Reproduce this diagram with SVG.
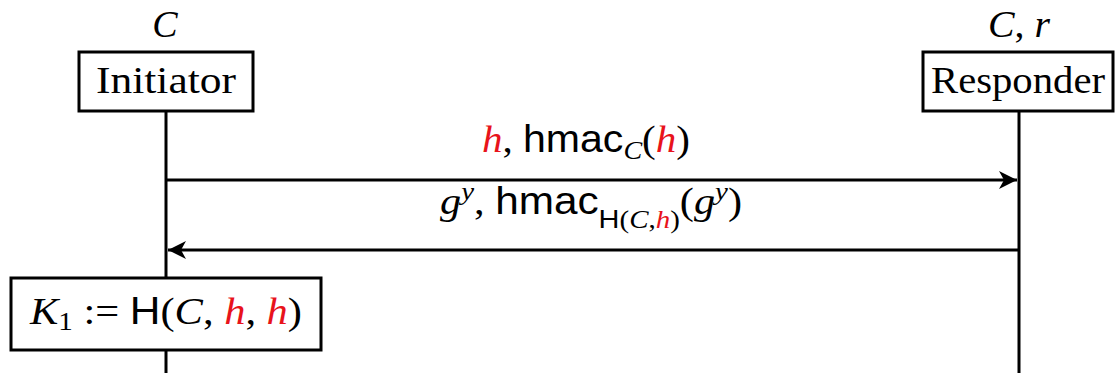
<svg xmlns="http://www.w3.org/2000/svg" width="1115" height="373" viewBox="0 0 1115 373">
<style>
.box{fill:#fff;stroke:#000;stroke-width:3}
.ln{stroke:#000;stroke-width:3;fill:none}
.rm{font-family:"Liberation Serif","DejaVu Serif",serif;font-size:38px;fill:#000}
.it{font-family:"Liberation Serif","DejaVu Serif",serif;font-style:italic}
.sf{font-family:"Liberation Sans","DejaVu Sans",sans-serif;font-style:normal}
.red{fill:#e8131b}
.sub{font-size:26px}
</style>
<defs>
<marker id="ah" markerWidth="20" markerHeight="18" refX="18" refY="9" orient="auto" markerUnits="userSpaceOnUse">
<path d="M0,0 L18,9 L0,18 L5,9 Z" fill="#000"/>
</marker>
</defs>
<g id="connectors">
<line class="ln" x1="166" y1="111" x2="166" y2="278"/>
<line class="ln" x1="166" y1="350" x2="166" y2="373"/>
<line class="ln" x1="1019" y1="111" x2="1019" y2="373"/>
<line class="ln" x1="166" y1="180" x2="1017" y2="180" marker-end="url(#ah)"/>
<line class="ln" x1="1019" y1="250" x2="168" y2="250" marker-end="url(#ah)"/>
<text class="rm" x="586" y="152" text-anchor="middle" textLength="208" lengthAdjust="spacingAndGlyphs"><tspan class="it red">h</tspan>, <tspan class="sf">hmac</tspan><tspan class="it sub" dy="7">C</tspan><tspan dy="-7">(</tspan><tspan class="it red">h</tspan>)</text>
<text class="rm" x="591" y="214" text-anchor="middle" textLength="302" lengthAdjust="spacingAndGlyphs"><tspan class="it">g</tspan><tspan class="it sub" dy="-14">y</tspan><tspan dy="14">, </tspan><tspan class="sf">hmac</tspan><tspan class="sub" dy="14"><tspan class="sf">H</tspan>(<tspan class="it">C</tspan>,<tspan class="it red">h</tspan>)</tspan><tspan dy="-14">(</tspan><tspan class="it">g</tspan><tspan class="it sub" dy="-14">y</tspan><tspan dy="14">)</tspan></text>
</g>
<g id="initiator">
<text class="rm it" x="165" y="37" text-anchor="middle">C</text>
<rect class="box" x="79" y="52" width="174" height="59"/>
<text class="rm" x="166" y="93" text-anchor="middle" textLength="140" lengthAdjust="spacingAndGlyphs">Initiator</text>
</g>
<g id="responder">
<text class="rm" x="1019" y="37" text-anchor="middle" textLength="62" lengthAdjust="spacingAndGlyphs"><tspan class="it">C</tspan>, <tspan class="it">r</tspan></text>
<rect class="box" x="923" y="52" width="190" height="59"/>
<text class="rm" x="1018" y="93" text-anchor="middle" textLength="174" lengthAdjust="spacingAndGlyphs">Responder</text>
</g>
<g id="key">
<rect class="box" x="11" y="278" width="310" height="72"/>
<text class="rm" x="166" y="324" text-anchor="middle" textLength="272" lengthAdjust="spacingAndGlyphs"><tspan class="it">K</tspan><tspan class="sub" dy="6">1</tspan><tspan dy="-6"> := </tspan><tspan class="sf">H</tspan>(<tspan class="it">C</tspan>, <tspan class="it red">h</tspan>, <tspan class="it red">h</tspan>)</text>
</g>
</svg>
